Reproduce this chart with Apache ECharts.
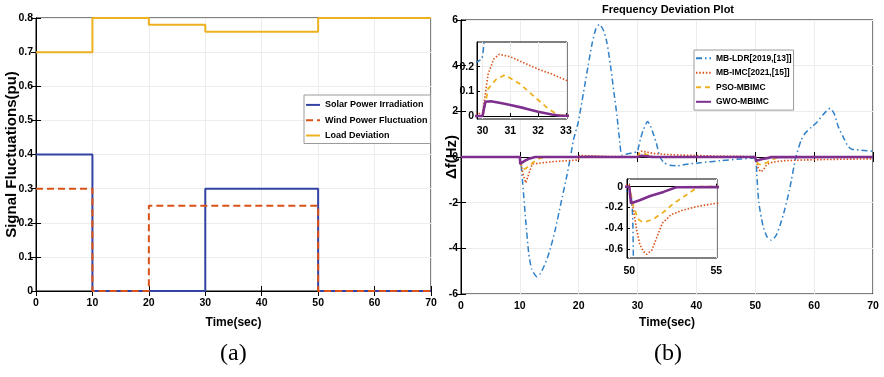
<!DOCTYPE html>
<html><head><meta charset="utf-8">
<script src="https://cdn.jsdelivr.net/npm/echarts@6/dist/echarts.min.js"></script>
<style>html,body{margin:0;padding:0;background:#fff}#c{width:884px;height:377px}</style>
</head><body><div id="c"></div>
<script>
// ---------- Panel (a): disturbance signals (step values) ----------
const solarT = [0, 10, 30, 50, 70];
const solarV = [0.4, 0, 0.3, 0, 0];
const windT  = [0, 10, 20, 50, 70];
const windV  = [0.3, 0, 0.25, 0, 0];
const loadT  = [0, 10, 20, 30, 50, 70];
const loadV  = [0.7, 0.8, 0.78, 0.76, 0.8, 0.8];
const namesA = ['Solar Power Irradiation', 'Wind Power Fluctuation', 'Load Deviation'];

// ---------- Panel (b): frequency deviation ----------
const ldrT = [0, 10, 10.2, 10.5, 11, 11.5, 12, 12.9, 13.5, 14.5, 15.2, 16, 17, 18, 18.6, 19.1, 19.9, 20.8, 21.6, 22.3, 22.9, 23.5, 24.2, 24.8, 25.4, 26, 26.5, 27, 27.3, 28, 29, 29.95, 30.05, 30.5, 31, 31.7, 32.2, 32.7, 33.2, 33.8, 34.5, 35.5, 36.7, 38, 40.7, 44.1, 47.4, 50, 50.25, 50.6, 51.3, 52, 52.7, 53.5, 54.2, 55, 55.8, 56.9, 57.8, 58.5, 59.5, 60.4, 61.5, 62.7, 63.4, 64.1, 65.2, 65.8, 66.4, 68, 70];
const ldrV = [0, 0, -0.3, -1.2, -2.8, -4.2, -4.9, -5.24, -5.1, -4.55, -4.0, -3.2, -2.0, -0.8, 0, 0.74, 1.5, 2.8, 4.0, 5.0, 5.6, 5.81, 5.55, 5.0, 4.0, 2.8, 1.8, 0.6, 0.09, 0.12, 0.18, 0.23, 0.3, 0.8, 1.2, 1.55, 1.35, 1.0, 0.6, 0, -0.25, -0.36, -0.39, -0.33, -0.25, -0.16, -0.09, -0.04, -0.75, -2.0, -3.0, -3.5, -3.64, -3.45, -3.0, -2.3, -1.45, 0, 0.74, 1.05, 1.3, 1.5, 1.85, 2.13, 1.9, 1.33, 0.74, 0.45, 0.34, 0.3, 0.25];

const imcT = [0, 10, 10.2, 10.5, 11.0, 11.5, 12.1, 13, 15, 18, 20, 20.15, 21, 23, 25, 28, 30, 30.1, 30.2, 30.4, 30.6, 31, 31.5, 32, 32.5, 33, 35, 38, 42, 46, 50, 50.1, 50.28, 50.43, 50.6, 50.8, 51.0, 51.3, 51.6, 51.9, 52.4, 53, 53.9, 55, 57, 60, 64.4, 70];
const imcV = [0, 0, -0.3, -0.7, -1.13, -0.75, -0.31, -0.28, -0.22, -0.16, -0.13, 0.07, 0.06, 0.04, 0.025, 0.015, 0.01, 0.09, 0.17, 0.23, 0.25, 0.24, 0.215, 0.19, 0.17, 0.145, 0.11, 0.08, 0.05, 0.03, 0.02, -0.1, -0.26, -0.42, -0.55, -0.62, -0.65, -0.61, -0.48, -0.35, -0.27, -0.23, -0.19, -0.16, -0.14, -0.12, -0.1, -0.08];

const psoT = [0, 10, 10.1, 10.3, 10.6, 11, 11.5, 12.3, 13, 13.5, 15, 20, 20.15, 22, 25, 30, 30.05, 30.2, 30.5, 30.8, 31.35, 31.95, 32.3, 32.55, 32.8, 33, 50, 50.1, 50.23, 50.5, 50.75, 51.0, 51.4, 52, 52.55, 53.1, 53.7, 54.1, 70];
const psoV = [0, 0, -0.15, -0.4, -0.54, -0.5, -0.4, -0.23, -0.1, -0.05, 0, 0, 0.04, 0.02, 0.005, 0, 0.02, 0.11, 0.15, 0.166, 0.13, 0.07, 0.036, 0.016, 0.003, 0.004, 0, -0.08, -0.18, -0.31, -0.34, -0.335, -0.31, -0.24, -0.16, -0.1, -0.03, 0, 0];

const gwoT = [0, 10, 10.07, 10.5, 11, 11.5, 12, 12.6, 20, 20.1, 22, 25, 30, 30.1, 30.3, 30.7, 31, 31.5, 32, 32.5, 32.8, 50, 50.1, 50.6, 51.2, 51.97, 52.7, 70];
const gwoV = [0, 0, -0.31, -0.22, -0.14, -0.08, -0.04, 0, 0, 0.03, 0.01, 0, 0, 0.058, 0.06, 0.052, 0.045, 0.032, 0.017, 0.006, 0.001, 0, -0.16, -0.13, -0.09, -0.05, -0.005, 0];
const namesB = ['MB-LDR[2019,[13]]', 'MB-IMC[2021,[15]]', 'PSO-MBIMC', 'GWO-MBIMC'];

// tick labels for the zoomed insets
const inset1XTicks = [30, 31, 32, 33];
const inset1YTicks = [0, 0.1, 0.2];
const inset2XTicks = [50, 55];
const inset2YTicks = [-0.6, -0.4, -0.2, 0];

const pts = (t, v) => t.map((x, i) => [x, v[i]]);

const SANS = "'Liberation Sans',Arial,sans-serif";
const lbl = (size, margin) => ({ color: '#000', fontFamily: SANS, fontWeight: 'bold', fontSize: size, margin: margin });
const grid = (l, t, w, h, z) => ({ left: l, top: t, width: w, height: h, show: true, borderColor: '#000', borderWidth: 1, backgroundColor: '#fff', z: z || 0 });
const tick = { show: true, inside: true, length: 5, lineStyle: { color: '#000', width: 1 } };
const split = { show: true, lineStyle: { color: '#ececec', width: 1 } };
const line = { show: true, lineStyle: { color: '#000', width: 1 } };

function mainAxis(gridIndex, pos, min, max, interval, withLabel, name, nameGap, nameFont) {
  const a = { type: 'value', gridIndex, position: pos, min, max, interval,
    axisLine: line, axisTick: tick, splitLine: withLabel ? split : { show: false },
    axisLabel: withLabel ? lbl(10.5, pos === 'bottom' ? 7 : 3) : { show: false } };
  if (name) {
    a.name = name; a.nameLocation = 'middle'; a.nameGap = nameGap;
    a.nameTextStyle = nameFont; a.nameMoveOverlap = false;
  }
  return a;
}
function insetAxis(gridIndex, pos, min, max, ticks, margin) {
  return { type: 'value', gridIndex, position: pos, min, max, z: 12,
    axisLine: line,
    axisTick: Object.assign({}, tick, { length: 3, customValues: ticks }),
    splitLine: { show: true, lineStyle: { color: '#ececec' } },
    axisLabel: Object.assign(lbl(10.5, margin), { customValues: ticks }) };
}

const C = { ldr: '#2f80c8', imc: '#D95319', pso: '#EDB120', gwo: '#7E2F8E', solar: '#3343a3' };
const styleB = [
  { color: C.ldr, width: 1.5, type: [6, 3, 1.5, 3] },
  { color: C.imc, width: 1.6, type: [1.5, 1.8] },
  { color: C.pso, width: 1.8, type: [5, 4] },
  { color: C.gwo, width: 2.6, type: 'solid' }
];
const dataB = [pts(ldrT, ldrV), pts(imcT, imcV), pts(psoT, psoV), pts(gwoT, gwoV)];

function seriesB(xi, yi, z) {
  return namesB.map((n, i) => ({
    type: 'line', name: n, xAxisIndex: xi, yAxisIndex: yi, data: dataB[i],
    symbol: 'none', showSymbol: false, z: z, smooth: i === 0 ? 0.2 : false,
    lineStyle: styleB[i], itemStyle: { color: styleB[i].color }, animation: false
  }));
}

const legendCommon = { orient: 'vertical', borderColor: '#9a9a9a', borderWidth: 1, backgroundColor: '#fff',
  borderRadius: 0, selectedMode: false, itemHeight: 2, itemStyle: { opacity: 0 } };

const option = {
  animation: false,
  backgroundColor: '#fff',
  title: { text: 'Frequency Deviation Plot', left: 668, top: 4, padding: 0, textAlign: 'center',
    textStyle: { fontFamily: SANS, fontWeight: 'bold', fontSize: 11, color: '#000' } },
  grid: [grid(36, 18, 395, 273), grid(461, 20, 412, 274), grid(477, 42, 90, 77, 10), grid(627, 179, 90, 79, 10)],
  xAxis: [
    mainAxis(0, 'bottom', 0, 70, 10, true, 'Time(sec)', 26, { fontFamily: SANS, fontWeight: 'bold', fontSize: 12, color: '#000' }),
    mainAxis(0, 'top', 0, 70, 10, false),
    mainAxis(1, 'bottom', 0, 70, 10, true, 'Time(sec)', 23, { fontFamily: SANS, fontWeight: 'bold', fontSize: 12, color: '#000' }),
    mainAxis(1, 'top', 0, 70, 10, false),
    insetAxis(2, 'bottom', 29.8, 33.04, inset1XTicks, 7),
    insetAxis(3, 'bottom', 49.87, 55.04, inset2XTicks, 8)
  ],
  yAxis: [
    mainAxis(0, 'left', 0, 0.8, 0.1, true, 'Signal Fluctuations(pu)', 16.5, { fontFamily: SANS, fontWeight: 'bold', fontSize: 15, color: '#000' }),
    mainAxis(0, 'right', 0, 0.8, 0.1, false),
    mainAxis(1, 'left', -6, 6, 2, true, 'Δf(Hz)', 1.5, { fontFamily: SANS, fontWeight: 'bold', fontSize: 15, color: '#000' }),
    mainAxis(1, 'right', -6, 6, 2, false),
    insetAxis(2, 'left', -0.012, 0.3, inset1YTicks, 3),
    insetAxis(3, 'left', -0.686, 0.074, inset2YTicks, 4)
  ],
  legend: [
    Object.assign({}, legendCommon, { data: namesA, left: 304, top: 95, itemWidth: 14, itemGap: 6.3,
      padding: [5.4, 3, 3.5, 1], textStyle: { fontFamily: SANS, fontWeight: 'bold', fontSize: 9, color: '#000' } }),
    Object.assign({}, legendCommon, { data: namesB, left: 694, top: 50, itemWidth: 15, itemGap: 5.5,
      padding: [3.8, 2, 3.8, 1], textStyle: { fontFamily: SANS, fontWeight: 'bold', fontSize: 8.5, color: '#000' } })
  ],
  graphic: [
    { type: 'text', left: 220, top: 342, style: { text: '(a)', font: "24px 'Liberation Serif', serif", fill: '#000' } },
    { type: 'text', left: 654, top: 342, style: { text: '(b)', font: "24px 'Liberation Serif', serif", fill: '#000' } }
  ],
  series: [
    { type: 'line', name: namesA[0], xAxisIndex: 0, yAxisIndex: 0, step: 'end', data: pts(solarT, solarV),
      symbol: 'none', lineStyle: { color: C.solar, width: 2 }, itemStyle: { color: C.solar } },
    { type: 'line', name: namesA[1], xAxisIndex: 0, yAxisIndex: 0, step: 'end', data: pts(windT, windV),
      symbol: 'none', lineStyle: { color: C.imc, width: 2, type: [7, 4] }, itemStyle: { color: C.imc } },
    { type: 'line', name: namesA[2], xAxisIndex: 0, yAxisIndex: 0, step: 'end', data: pts(loadT, loadV),
      symbol: 'none', lineStyle: { color: C.pso, width: 2 }, itemStyle: { color: C.pso } }
  ].concat(seriesB(2, 2, 2), seriesB(4, 4, 12), seriesB(5, 5, 12))
};

const chart = echarts.init(document.getElementById('c'), null, { renderer: 'canvas' });
chart.setOption(option);
</script></body></html>
